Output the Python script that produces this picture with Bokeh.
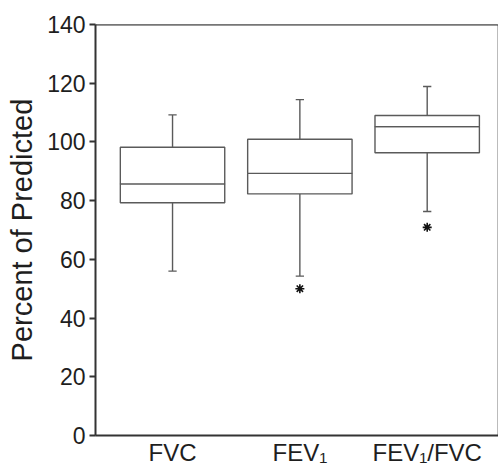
from bokeh.plotting import figure
from bokeh.models import Range1d, Span, FixedTicker
from bokeh.embed import file_html
from bokeh.resources import INLINE

# ---- data ----
categories = ["FVC", "FEV\u2081", "FEV\u2081/FVC"]
whisker_low = [56.0, 54.3, 76.3]
q1 = [79.3, 82.3, 96.3]
median = [85.7, 89.3, 105.2]
q3 = [98.2, 100.9, 109.0]
whisker_high = [109.2, 114.4, 118.9]
outlier_cat = ["FEV\u2081", "FEV\u2081/FVC"]
outlier_val = [50.0, 70.9]
y_ticks = [0, 20, 40, 60, 80, 100, 120, 140]

pos = list(range(1, len(categories) + 1))
cat_pos = dict(zip(categories, pos))
out_pos = [cat_pos[c] for c in outlier_cat]

FONT = "Liberation Sans"
BOX_W = 0.82
CAP = 0.065
LC = "#5a5a5a"
TXT = "#1e1e1e"

p = figure(width=498, height=468, output_backend="svg", toolbar_location=None,
           x_range=Range1d(0.395, 3.56), y_range=Range1d(0, 140),
           min_border_left=95, min_border_right=0, min_border_top=24, min_border_bottom=31)

p.xgrid.visible = False
p.ygrid.visible = False
p.outline_line_color = "#bbbbbb"
p.outline_line_width = 1
p.background_fill_color = "white"
p.border_fill_color = "white"

# boxes (lower and upper halves -> median line)
p.vbar(x=pos, width=BOX_W, bottom=q1, top=median, fill_color="white",
       line_color=LC, line_width=1.4)
p.vbar(x=pos, width=BOX_W, bottom=median, top=q3, fill_color="white",
       line_color=LC, line_width=1.4)

# whiskers
p.segment(x0=pos, y0=q3, x1=pos, y1=whisker_high, line_color=LC, line_width=1.4)
p.segment(x0=pos, y0=q1, x1=pos, y1=whisker_low, line_color=LC, line_width=1.4)
p.segment(x0=[x - CAP / 2 for x in pos], y0=whisker_high,
          x1=[x + CAP / 2 for x in pos], y1=whisker_high, line_color=LC, line_width=1.4)
p.segment(x0=[x - CAP / 2 for x in pos], y0=whisker_low,
          x1=[x + CAP / 2 for x in pos], y1=whisker_low, line_color=LC, line_width=1.4)

# outliers
p.scatter(x=out_pos, y=outlier_val, marker="asterisk", size=9,
          line_color="#111111", line_width=1.6)

# top border line
p.add_layout(Span(location=140, dimension="width", line_color="#333333", line_width=2))

# y axis
yax = p.yaxis[0]
yax.ticker = FixedTicker(ticks=y_ticks)
yax.axis_label = "Percent of Predicted"
yax.axis_label_text_font = FONT
yax.axis_label_text_font_size = "29px"
yax.axis_label_text_font_style = "normal"
yax.axis_label_text_color = TXT
yax.axis_label_standoff = 6
yax.major_label_text_font = FONT
yax.major_label_text_font_size = "23px"
yax.major_label_text_color = TXT
yax.major_label_standoff = 4
yax.major_tick_out = 6
yax.major_tick_in = 0
yax.minor_tick_out = 0
yax.minor_tick_in = 0
yax.axis_line_color = "#333333"
yax.axis_line_width = 2
yax.major_tick_line_color = "#333333"
yax.major_tick_line_width = 2

# x axis
xax = p.xaxis[0]
xax.ticker = FixedTicker(ticks=pos)
xax.major_label_overrides = {x: c for x, c in zip(pos, categories)}
xax.major_label_text_font = FONT
xax.major_label_text_font_size = "24px"
xax.major_label_text_color = TXT
xax.major_label_standoff = 3
xax.major_tick_out = 0
xax.major_tick_in = 0
xax.minor_tick_out = 0
xax.minor_tick_in = 0
xax.axis_line_color = "#333333"
xax.axis_line_width = 2

open("out.html", "w").write(file_html(p, INLINE))
